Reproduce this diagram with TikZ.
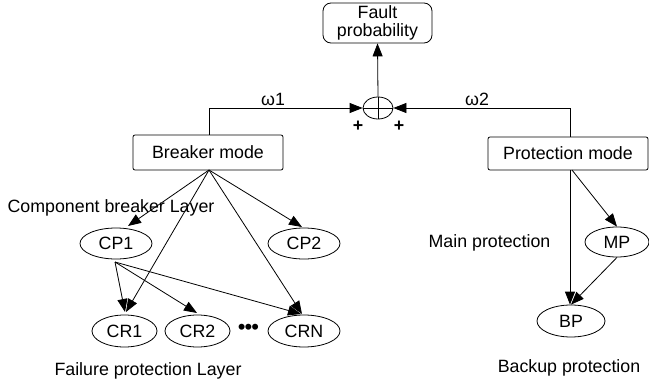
\documentclass[tikz,border=0pt]{standalone}
\usepackage{fontspec}
\setmainfont{Liberation Sans}
\usetikzlibrary{shapes.geometric,arrows.meta}
\begin{document}
\begin{tikzpicture}[x=1pt,y=-1pt,
  font=\fontsize{17.8}{19}\selectfont,
  lin/.style={draw=black,line width=0.8pt},
  arr/.style={lin,-{Triangle[length=13pt,width=10pt]}},
  modebox/.style={draw,line width=0.8pt,rectangle,rounded corners=2pt,inner sep=0pt},
  oval/.style={draw,line width=0.8pt,ellipse,inner sep=0pt},
  lbl/.style={inner sep=0pt}]
\useasboundingbox (0,0) rectangle (649,383);
\node[modebox,rounded corners=8pt,minimum width=109pt,minimum height=40pt,align=center] (fault) at (377.5,23) {Fault\\[-1pt]probability};
\node[draw,line width=0.8pt,ellipse,minimum width=30pt,minimum height=22pt,inner sep=0pt] (sum) at (378,108) {};
\draw[lin] (sum.north) -- (sum.south) (sum.west) -- (sum.east);
\node[modebox,minimum width=150pt,minimum height=35pt] (brk) at (208,152.5) {Breaker mode};
\node[modebox,minimum width=160pt,minimum height=33pt] (prot) at (568,153.5) {Protection mode};
\coordinate (bl) at (209,108);
\coordinate (pr) at (570,108);
\draw[arr] (sum.north) -- (fault.south);
\draw[arr] (brk.north -| bl) -- (bl) -- (sum.west);
\draw[arr] (prot.north -| pr) -- (pr) -- (sum.east);
\node[lbl] (w1) at (273,99) {ω1};
\node[lbl] (w2) at (477,99) {ω2};
\node[lbl] (p1) at (358,126) {\textbf{+}};
\node[lbl] (p2) at (399,126) {\textbf{+}};
% breaker side
\node[lbl] (cbl) at (111,208) {Component breaker Layer};
\node[oval,minimum width=72pt,minimum height=31pt] (cp1) at (116,243.5) {CP1};
\node[oval,minimum width=72pt,minimum height=31pt] (cp2) at (304,243.5) {CP2};
\node[oval,minimum width=65pt,minimum height=32pt] (cr1) at (124.5,331) {CR1};
\node[oval,minimum width=65pt,minimum height=32pt] (cr2) at (197.5,331) {CR2};
\node[oval,minimum width=72pt,minimum height=32pt] (crn) at (304,331) {CRN};
\node[lbl] (dots) at (248.5,329) {\fontsize{22}{22}\selectfont\textbullet\kern-1pt\textbullet\kern-1pt\textbullet};
\node[lbl] (fpl) at (148,371) {Failure protection Layer};
\coordinate (bs) at (209,170);
\draw[arr] (bs) -- (128,226);
\draw[arr] (bs) -- (126,312);
\draw[arr] (bs) -- (302,314);
\draw[arr] (bs) -- (302,227);
\coordinate (cs) at (115,262);
\draw[arr] (cs) -- (125,312);
\draw[arr] (cs) -- (197,313);
\draw[arr] (cs) -- (301,314);
% protection side
\node[oval,minimum width=64pt,minimum height=30pt] (mp) at (617,242) {MP};
\node[oval,minimum width=68pt,minimum height=32pt] (bp) at (571,321) {BP};
\node[lbl] (mpl) at (489.5,243) {Main protection};
\node[lbl] (bpl) at (569,368) {Backup protection};
\coordinate (ps) at (570,170);
\draw[arr] (ps) -- (bp.north -| ps);
\draw[arr] (572,170) -- (mp.north);
\draw[arr] (mp.south) -- (bp.north);
\end{tikzpicture}
\end{document}
